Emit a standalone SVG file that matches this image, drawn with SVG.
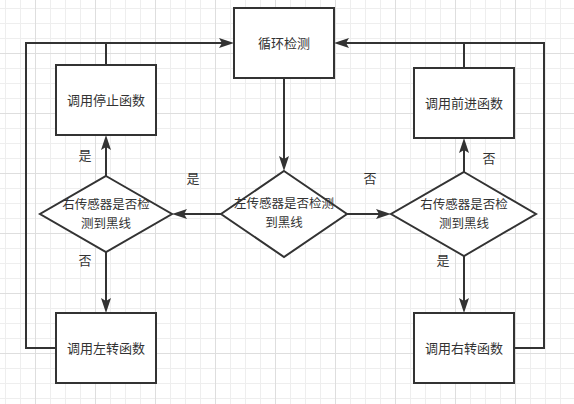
<svg xmlns="http://www.w3.org/2000/svg" width="574" height="404" viewBox="0 0 574 404">
  <style>
    .node { fill: #ffffff; stroke: #333333; stroke-width: 2; }
    .edge { fill: none; stroke: #333333; stroke-width: 2; }
    text { font-family: "Noto Sans CJK SC", "Noto Sans", sans-serif; font-size: 13px; fill: #333333; text-anchor: middle; }
    .dtext { font-size: 12.5px; }
  </style>
  <defs>
    <pattern id="grid" patternUnits="userSpaceOnUse" x="35" y="53" width="60" height="60">
      <path d="M15.5,0 V60 M30.5,0 V60 M45.5,0 V60 M0,15.5 H60 M0,30.5 H60 M0,45.5 H60" stroke="#eeeeee" stroke-width="1" fill="none"/>
      <path d="M0.5,0 V60 M0,0.5 H60" stroke="#dedede" stroke-width="1" fill="none"/>
    </pattern>
    <marker id="arrow" viewBox="0 0 15 10" markerUnits="userSpaceOnUse" markerWidth="15" markerHeight="10" refX="5" refY="5" orient="auto">
      <path d="M0,0 L15,5 L0,10 L3,5 Z" fill="#333333"/>
    </marker>
  </defs>
  <rect width="574" height="404" fill="#ffffff"/>
  <rect width="574" height="404" fill="url(#grid)"/>

  <g id="connectors">
    <path class="edge" d="M284,78 V161" marker-end="url(#arrow)"/>
    <path class="edge" d="M221,214 H182" marker-end="url(#arrow)"/>
    <path class="edge" d="M347,214 H381" marker-end="url(#arrow)"/>
    <path class="edge" d="M106,177 V145" marker-end="url(#arrow)"/>
    <path class="edge" d="M106,252 V303" marker-end="url(#arrow)"/>
    <path class="edge" d="M464,172 V148" marker-end="url(#arrow)"/>
    <path class="edge" d="M464,256 V303" marker-end="url(#arrow)"/>
    <path class="edge" d="M56,348 H26 V43 H224" marker-end="url(#arrow)"/>
    <path class="edge" d="M106,65 V43"/>
    <path class="edge" d="M514,348 H544 V43 H344" marker-end="url(#arrow)"/>
    <path class="edge" d="M464,68 V43"/>
    <text x="85" y="159.5">是</text>
    <text x="193" y="183">是</text>
    <text x="370" y="183">否</text>
    <text x="489" y="162.5">否</text>
    <text x="85" y="264.5">否</text>
    <text x="443" y="264.5">是</text>
  </g>

  <g id="loop">
    <rect class="node" x="234" y="8" width="100" height="70"/>
    <text x="284" y="47.5">循环检测</text>
  </g>
  <g id="stop">
    <rect class="node" x="56" y="65" width="100" height="70"/>
    <text x="106" y="104.5">调用停止函数</text>
  </g>
  <g id="forward">
    <rect class="node" x="414" y="68" width="100" height="70"/>
    <text x="464" y="107.5">调用前进函数</text>
  </g>
  <g id="turnLeft">
    <rect class="node" x="56" y="313" width="100" height="70"/>
    <text x="106" y="352.5">调用左转函数</text>
  </g>
  <g id="turnRight">
    <rect class="node" x="414" y="313" width="100" height="70"/>
    <text x="464" y="352.5">调用右转函数</text>
  </g>
  <g id="leftDecision">
    <polygon class="node" points="106,176 172,214 106,252 40,214"/>
    <text class="dtext" x="106" y="209.3">右传感器是否检<tspan x="106" dy="18.5">测到黑线</tspan></text>
  </g>
  <g id="midDecision">
    <polygon class="node" points="284,171 347,214 284,257 221,214"/>
    <text class="dtext" x="284" y="208.4">左传感器是否检测<tspan x="284" dy="18.5">到黑线</tspan></text>
  </g>
  <g id="rightDecision">
    <polygon class="node" points="464,172 536,214 464,256 391,214"/>
    <text class="dtext" x="464" y="209.3">右传感器是否检<tspan x="464" dy="18.5">测到黑线</tspan></text>
  </g>
</svg>
